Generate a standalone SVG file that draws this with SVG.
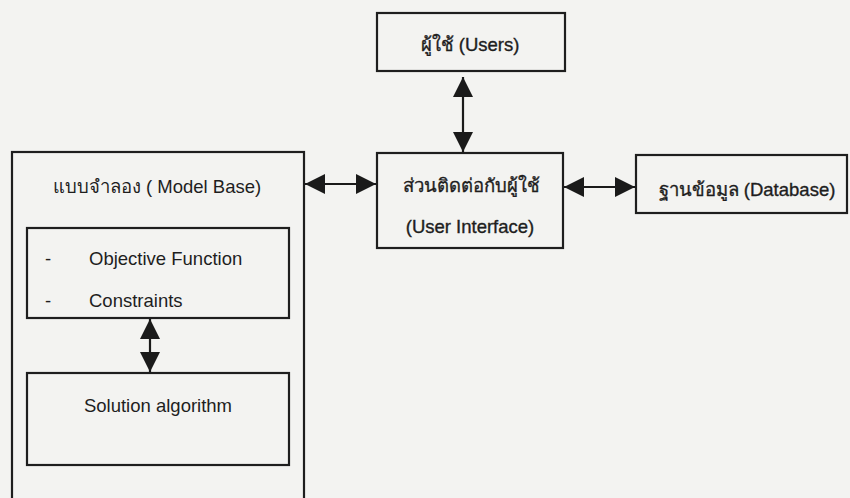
<svg xmlns="http://www.w3.org/2000/svg" width="850" height="498" viewBox="0 0 850 498">
<defs>
<style>
.box{fill:none;stroke:#1e1e1e;stroke-width:2.2}
.t{font-family:"Liberation Sans",Arial,sans-serif;font-size:18.5px;fill:#1e1e1e}
.b{stroke:#1e1e1e;stroke-width:0.35}
.c{stroke:#1a1a1a;stroke-width:2.2;fill:none}
</style>
<marker id="ah" markerUnits="userSpaceOnUse" markerWidth="21" markerHeight="20" refX="20" refY="10" orient="auto-start-reverse" viewBox="0 0 21 20">
<path d="M0,0 L20,10 L0,20 z" fill="#1a1a1a"/>
</marker>
</defs>
<rect width="850" height="498" fill="#f3f3f1"/>
<g id="users">
<rect class="box" x="377" y="13" width="188" height="58"/>
<text class="t b" x="470" y="51" text-anchor="middle">ผู้ใช้ (Users)</text>
</g>
<g id="ui">
<rect class="box" x="377" y="153" width="186" height="95"/>
<text class="t b" x="471" y="192" text-anchor="middle">ส่วนติดต่อกับผู้ใช้</text>
<text class="t b" x="470" y="233" text-anchor="middle">(User Interface)</text>
</g>
<g id="database">
<rect class="box" x="636" y="155" width="211" height="58"/>
<text class="t b" x="747" y="196" text-anchor="middle">ฐานข้อมูล (Database)</text>
</g>
<g id="modelbase">
<rect class="box" x="12" y="152" width="292" height="360"/>
<text class="t" x="157" y="193" text-anchor="middle">แบบจำลอง ( Model Base)</text>
</g>
<g id="objective">
<rect class="box" x="27" y="228" width="262" height="90"/>
<text class="t" x="45" y="265">-</text>
<text class="t" x="89" y="265">Objective Function</text>
<text class="t" x="45" y="307">-</text>
<text class="t" x="89" y="307">Constraints</text>
</g>
<g id="solution">
<rect class="box" x="27" y="373" width="262" height="92"/>
<text class="t" x="158" y="412" text-anchor="middle">Solution algorithm</text>
</g>
<g id="connectors">
<line class="c" x1="463" y1="77" x2="463" y2="152" marker-start="url(#ah)" marker-end="url(#ah)"/>
<line class="c" x1="305" y1="184" x2="376" y2="184" marker-start="url(#ah)" marker-end="url(#ah)"/>
<line class="c" x1="564" y1="187" x2="635" y2="187" marker-start="url(#ah)" marker-end="url(#ah)"/>
<line class="c" x1="150" y1="319" x2="150" y2="372" marker-start="url(#ah)" marker-end="url(#ah)"/>
</g>
</svg>
